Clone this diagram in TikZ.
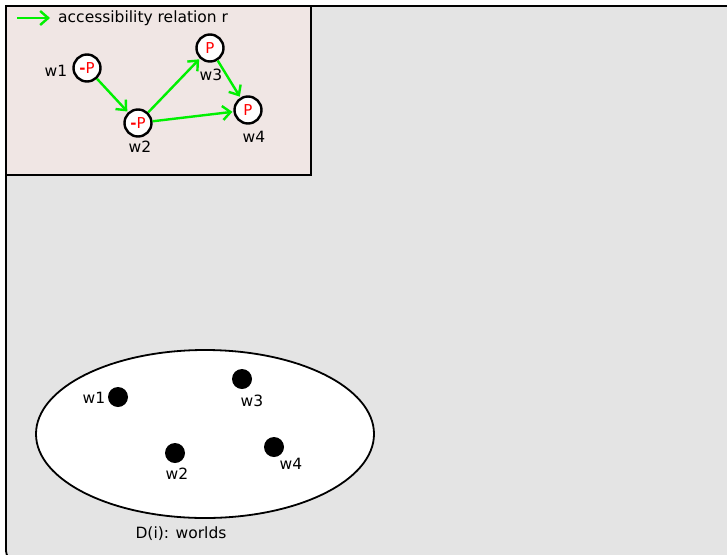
\documentclass[tikz,border=0pt]{standalone}
\usepackage{fontspec}
\setmainfont{DejaVu Sans}
\usetikzlibrary{arrows.meta}
\definecolor{bggray}{HTML}{E4E4E4}
\definecolor{pinkbg}{HTML}{F0E6E4}
\definecolor{accgreen}{HTML}{00F000}
\begin{document}
\begin{tikzpicture}[x=1pt,y=-1pt,
  world/.style={circle,draw=black,line width=2.4pt,fill=white,minimum size=27pt,inner sep=0pt,text=red,font=\fontsize{15}{18}\selectfont},
  dot/.style={circle,fill=black,minimum size=20pt,inner sep=0pt},
  lbl/.style={font=\fontsize{15.5}{18}\selectfont,inner sep=0pt},
  acc/.style={draw=accgreen,line width=2.4pt,shorten >=1pt,-{Straight Barb[length=8pt,width=14pt,line width=2.4pt]}}]
\useasboundingbox (0,0) rectangle (727,554);
\fill[white] (0,0) rectangle (727,554);
\draw[fill=bggray,line width=1.8pt,rounded corners=9pt] (6,6) rectangle (737,560);
\draw[fill=pinkbg,line width=1.8pt] (6,6) rectangle (311,175);
% legend
\coordinate (la) at (17,18);
\coordinate (lb) at (51,18);
\draw[acc] (la) -- (lb);
\node[lbl,anchor=west] (legend) at (58,18) {accessibility relation r};
% inset worlds
\node[world] (a1) at (87,68) {\textbf{-}P};
\node[world] (a2) at (138,123) {\textbf{-}P};
\node[world] (a3) at (210,48) {P};
\node[world] (a4) at (248,110) {P};
\node[lbl] (la1) at (56,71) {w1};
\node[lbl] (la2) at (140,147) {w2};
\node[lbl] (la3) at (211,75) {w3};
\node[lbl] (la4) at (254,137) {w4};
\draw[acc] (a1) -- (a2);
\draw[acc] (a2) -- (a3);
\draw[acc] (a2) -- (a4);
\draw[acc] (a3) -- (a4);
% domain ellipse
\draw[fill=white,line width=1.8pt] (205,434) ellipse [x radius=169, y radius=84];
\node[dot] (b1) at (118,397) {};
\node[dot] (b2) at (175,453) {};
\node[dot] (b3) at (242,379) {};
\node[dot] (b4) at (274,447) {};
\node[lbl] (lb1) at (94,398) {w1};
\node[lbl] (lb2) at (177,474) {w2};
\node[lbl] (lb3) at (252,401) {w3};
\node[lbl] (lb4) at (291,464) {w4};
\node[lbl] (dom) at (181,534) {D(i): worlds};
\end{tikzpicture}
\end{document}
